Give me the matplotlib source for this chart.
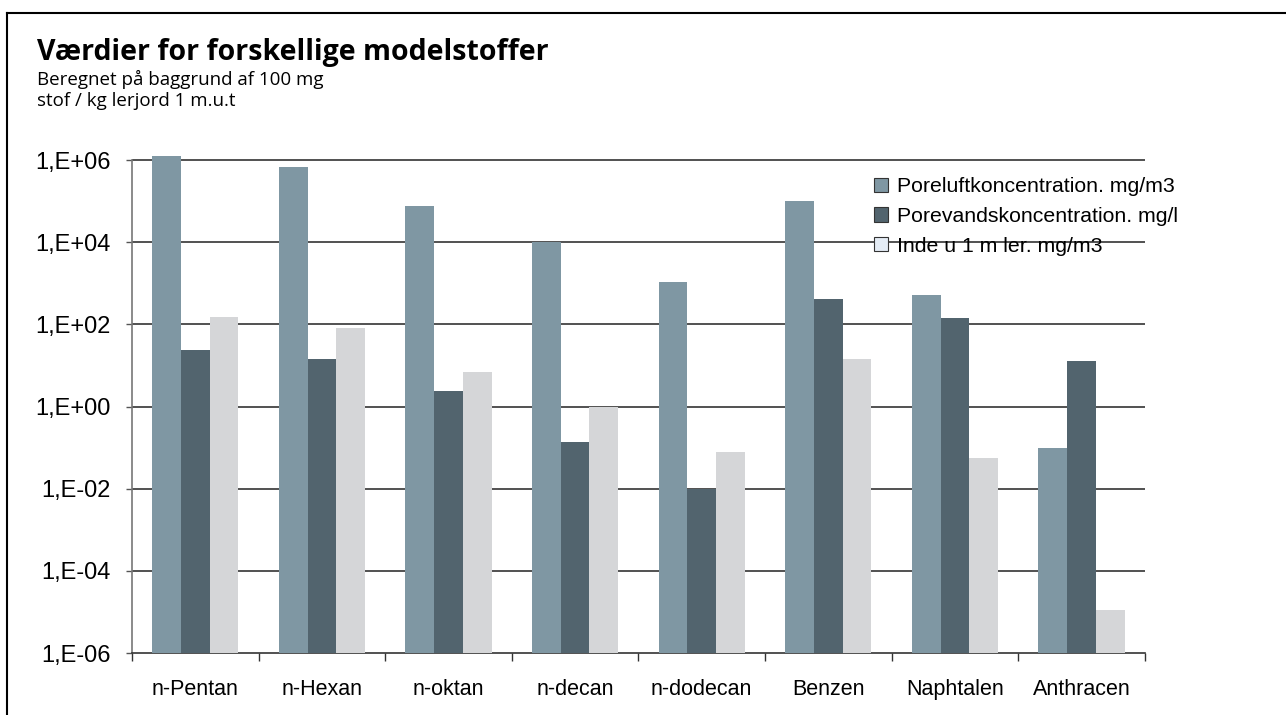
import numpy as np
import matplotlib.pyplot as plt
from matplotlib.patches import Patch
from matplotlib.lines import Line2D

# data
stoffer = ['n-Pentan', 'n-Hexan', 'n-oktan', 'n-decan', 'n-dodecan', 'Benzen', 'Naphtalen', 'Anthracen']
poreluft = [1.25e6, 6.6e5, 7.4e4, 1.0e4, 1.1e3, 9.8e4, 5.2e2, 0.1]
porevand = [24, 14.5, 2.4, 0.14, 0.0098, 420, 145, 13]
inde = [150, 80, 7, 0.95, 0.08, 14.5, 0.055, 1.0e-5]
serie_navne = ['Poreluftkoncentration. mg/m3', 'Porevandskoncentration. mg/l', 'Inde u 1 m ler. mg/m3']
y_ticks = [1e-6, 1e-4, 1e-2, 1e0, 1e2, 1e4, 1e6]
y_labels = ['1,E-06', '1,E-04', '1,E-02', '1,E+00', '1,E+02', '1,E+04', '1,E+06']

farver = ['#7f97a3', '#52646e', '#d5d6d8']

fig = plt.figure(figsize=(12.86, 7.15), dpi=100)
ax = fig.add_axes([0.1026, 0.0867, 0.7877, 0.6996])

x = np.arange(len(stoffer))
w = 0.227
for i, (vals, c) in enumerate(zip([poreluft, porevand, inde], farver)):
    ax.bar(x + (i - 1) * w, vals, width=w, color=c, bottom=1e-6, zorder=3)

ax.set_yscale('log')
ax.set_ylim(1e-6, 1.5e6)
ax.set_xlim(-0.5, len(stoffer) - 0.5)
ax.set_yticks(y_ticks)
ax.set_yticklabels(y_labels)
ax.yaxis.set_minor_locator(plt.NullLocator())
for yv in y_ticks[1:]:
    ax.axhline(yv, color='#333333', lw=1.2, zorder=1)

ax.set_xticks(x)
ax.set_xticklabels(stoffer)
ax.set_xticks(np.arange(len(stoffer) + 1) - 0.5, minor=True)
ax.tick_params(axis='x', which='major', length=0, pad=19, labelsize=15.5)
ax.tick_params(axis='x', which='minor', length=6, width=1, color='#333333', direction='out')
ax.tick_params(axis='y', length=4, width=1, color='#555555', pad=11, labelsize=17)

for s in ['top', 'right']:
    ax.spines[s].set_visible(False)
ax.spines['left'].set_color('#777777')
ax.spines['left'].set_bounds(1e-6, 1e6)
ax.spines['bottom'].set_color('#333333')
ax.spines['left'].set_linewidth(1.2)
ax.spines['bottom'].set_linewidth(1.2)

for lab in ax.get_xticklabels() + ax.get_yticklabels():
    lab.set_family('Liberation Sans')

handles = [Patch(facecolor=farver[0], edgecolor='#333333', lw=0.8),
           Patch(facecolor=farver[1], edgecolor='#333333', lw=0.8),
           Patch(facecolor='#e4ecf5', edgecolor='#333333', lw=0.8)]
leg = ax.legend(handles, serie_navne, loc='upper left', bbox_to_anchor=(0.716, 0.985),
                frameon=False, prop={'family': 'Liberation Sans', 'size': 15.3},
                handlelength=0.65, handleheight=0.65, handletextpad=0.4, labelspacing=0.5,
                borderpad=0.3)

fig.text(37 / 1286, 1 - 60 / 715, 'Værdier for forskellige modelstoffer', fontsize=20.5,
         fontweight='bold', family='Open Sans', va='baseline')
fig.text(37 / 1286, 1 - 85 / 715, 'Beregnet på baggrund af 100 mg', fontsize=13.5,
         family='Open Sans', va='baseline')
fig.text(37 / 1286, 1 - 106 / 715, 'stof / kg lerjord 1 m.u.t', fontsize=13.5,
         family='Open Sans', va='baseline')

# ramme
fig.add_artist(Line2D([7 / 1286, 7 / 1286], [0, 1 - 13 / 715], color='black', lw=1.5,
                      transform=fig.transFigure))
fig.add_artist(Line2D([7 / 1286, 1], [1 - 13 / 715, 1 - 13 / 715], color='black', lw=1.5,
                      transform=fig.transFigure))

fig.savefig('out.png', dpi=100)
